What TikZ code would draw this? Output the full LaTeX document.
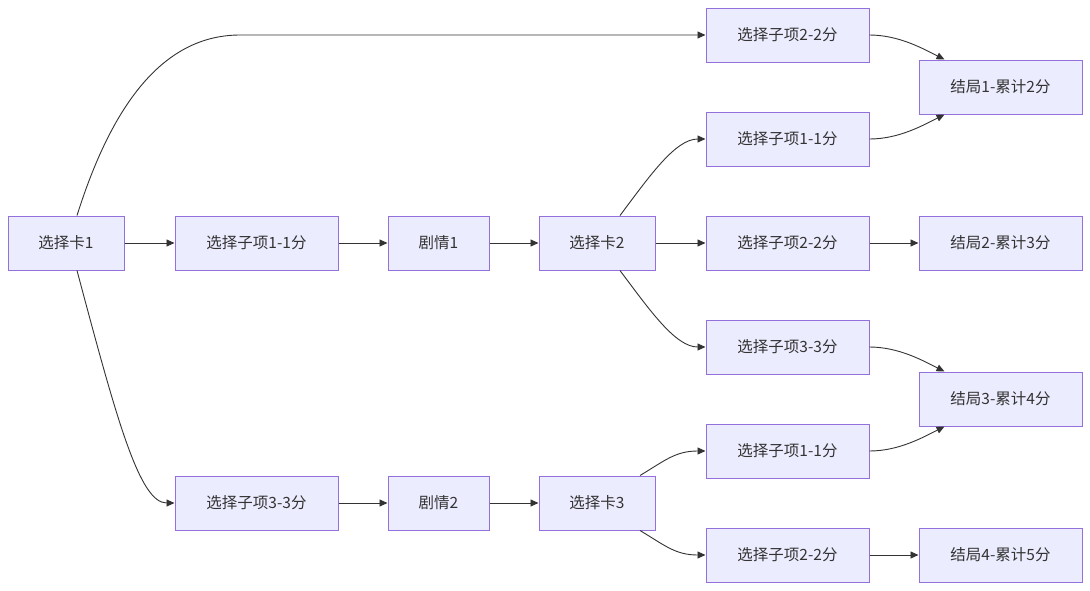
\documentclass[tikz,border=0pt]{standalone}
\usepackage{fontspec}
\setmainfont{Noto Sans CJK SC}
\usetikzlibrary{arrows.meta,calc}
\definecolor{boxfill}{HTML}{ECECFF}
\definecolor{boxline}{HTML}{9370DB}
\definecolor{edge}{HTML}{333333}
\begin{document}
\begin{tikzpicture}[x=1pt,y=-1pt,
  box/.style={draw=boxline,fill=boxfill,line width=1pt,inner sep=0pt,minimum height=54pt,font=\fontsize{15.5}{18}\selectfont,text=edge},
  wide/.style={box,minimum width=163pt},
  mid/.style={box,minimum width=116pt},
  narrow/.style={box,minimum width=101pt},
  conn/.style={draw=edge,line width=0.9pt,-{Triangle[length=8pt,width=7pt]}}]
\useasboundingbox (0,0) rectangle (1090,590);
% column 1-4
\node[mid] (c1) at (66,243) {选择卡1};
\node[wide] (a1) at (256.5,243) {选择子项1-1分};
\node[narrow] (p1) at (438.5,243) {剧情1};
\node[mid] (c2) at (597,243) {选择卡2};
\node[wide] (b3) at (256.5,503) {选择子项3-3分};
\node[narrow] (p2) at (438.5,503) {剧情2};
\node[mid] (c3) at (597,503) {选择卡3};
% column 5
\node[wide] (s1) at (787.5,35) {选择子项2-2分};
\node[wide] (s2) at (787.5,139) {选择子项1-1分};
\node[wide] (s3) at (787.5,243) {选择子项2-2分};
\node[wide] (s4) at (787.5,347) {选择子项3-3分};
\node[wide] (s5) at (787.5,451) {选择子项1-1分};
\node[wide] (s6) at (787.5,555) {选择子项2-2分};
% endings
\node[wide] (e1) at (1000.5,87) {结局1-累计2分};
\node[wide] (e2) at (1000.5,243) {结局2-累计3分};
\node[wide] (e3) at (1000.5,399) {结局3-累计4分};
\node[wide] (e4) at (1000.5,555) {结局4-累计5分};
\coordinate (k1) at (240,35);
% straight edges
\draw[conn] (c1) -- (a1);
\draw[conn] (a1) -- (p1);
\draw[conn] (p1) -- (c2);
\draw[conn] (c2) -- (s3);
\draw[conn] (s3) -- (e2);
\draw[conn] (b3) -- (p2);
\draw[conn] (p2) -- (c3);
\draw[conn] (s6) -- (e4);
% curved edges
\draw[conn] ([xshift=11pt]c1.north) .. controls +(30,-95) and +(-85,0) .. (k1) -- (s1.west);
\draw[conn] ([xshift=11pt]c1.south) .. controls +(40,150) and +(-35,0) .. (b3.west);
\draw[conn] ([xshift=23pt]c2.north) .. controls +(30,-40) and +(-30,0) .. (s2.west);
\draw[conn] ([xshift=23pt]c2.south) .. controls +(30,40) and +(-30,0) .. (s4.west);
\draw[conn] ([xshift=43pt]c3.north) .. controls +(25,-15) and +(-30,0) .. (s5.west);
\draw[conn] ([xshift=43pt]c3.south) .. controls +(25,15) and +(-30,0) .. (s6.west);
\draw[conn] (s1.east) .. controls +(30,0) and +(-20,-10) .. ([xshift=-56pt]e1.north);
\draw[conn] (s2.east) .. controls +(30,0) and +(-20,10) .. ([xshift=-56pt]e1.south);
\draw[conn] (s4.east) .. controls +(30,0) and +(-20,-10) .. ([xshift=-56pt]e3.north);
\draw[conn] (s5.east) .. controls +(30,0) and +(-20,10) .. ([xshift=-56pt]e3.south);
\end{tikzpicture}
\end{document}
